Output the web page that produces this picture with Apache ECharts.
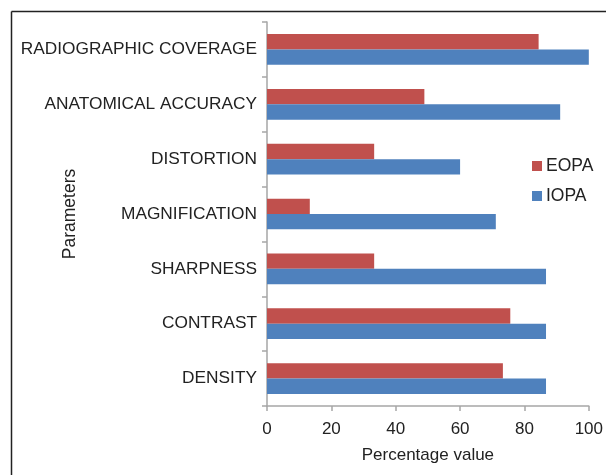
<!DOCTYPE html>
<html>
<head>
<meta charset="utf-8">
<script src="https://cdn.jsdelivr.net/npm/echarts@6/dist/echarts.min.js"></script>
<style>
html,body{margin:0;padding:0;background:#fff;}
#chart{width:606px;height:475px;}
</style>
</head>
<body>
<div id="chart"></div>
<script>
// Categories listed bottom to top (ECharts category y axis starts at the bottom)
const categories = ['DENSITY', 'CONTRAST', 'SHARPNESS', 'MAGNIFICATION', 'DISTORTION', 'ANATOMICAL ACCURACY', 'RADIOGRAPHIC COVERAGE'];
const eopaValues = [73.3, 75.6, 33.3, 13.3, 33.3, 48.9, 84.4];
const iopaValues = [86.7, 86.7, 86.7, 71.1, 60.0, 91.1, 100];
const seriesNames = ['EOPA', 'IOPA'];
const xTicks = { min: 0, max: 100, interval: 20 };

const FONT = 'Liberation Sans, Arial, sans-serif';
const chart = echarts.init(document.getElementById('chart'));
chart.setOption({
  animation: false,
  textStyle: { fontFamily: FONT },
  graphic: [
    { type: 'line', shape: { x1: 11.5, y1: 11.5, x2: 606, y2: 11.5 }, style: { stroke: '#222', lineWidth: 1.5 } },
    { type: 'line', shape: { x1: 11.5, y1: 11.5, x2: 11.5, y2: 475 }, style: { stroke: '#222', lineWidth: 1.5 } }
  ],
  grid: { left: 267, right: 17, top: 22, bottom: 69, containLabel: false },
  legend: {
    orient: 'vertical',
    left: 527,
    top: 152,
    itemWidth: 10,
    itemHeight: 10,
    itemGap: 12,
    icon: 'rect',
    data: seriesNames,
    textStyle: { fontFamily: FONT, fontSize: 17.5, color: '#222', padding: [0, 0, 0, -1] }
  },
  xAxis: {
    type: 'value',
    min: xTicks.min,
    max: xTicks.max,
    interval: xTicks.interval,
    name: 'Percentage value',
    nameLocation: 'middle',
    nameGap: 41,
    nameMoveOverlap: false,
    nameTextStyle: { fontFamily: FONT, fontSize: 17, color: '#222' },
    axisLine: { show: true, lineStyle: { color: '#a6a6a6', width: 1.5 } },
    axisTick: { show: true, length: 5, lineStyle: { color: '#a6a6a6', width: 1.5 } },
    axisLabel: { fontFamily: FONT, fontSize: 17, color: '#222', margin: 15 },
    splitLine: { show: false }
  },
  yAxis: {
    type: 'category',
    data: categories,
    name: 'Parameters',
    nameLocation: 'middle',
    nameGap: 188,
    nameMoveOverlap: false,
    nameRotate: 90,
    nameTextStyle: { fontFamily: FONT, fontSize: 17.5, color: '#222' },
    axisLine: { show: true, lineStyle: { color: '#a6a6a6', width: 1.5 } },
    axisTick: { show: true, length: 5, alignWithLabel: false, lineStyle: { color: '#a6a6a6', width: 1.5 } },
    axisLabel: { fontFamily: FONT, fontSize: 17.3, color: '#222', margin: 10 }
  },
  series: [
    { name: seriesNames[0], type: 'bar', data: eopaValues, itemStyle: { color: '#C0504D' }, barGap: '0%', barCategoryGap: '44%' },
    { name: seriesNames[1], type: 'bar', data: iopaValues, itemStyle: { color: '#4F81BD' }, barGap: '0%', barCategoryGap: '44%' }
  ]
});
</script>
</body>
</html>
